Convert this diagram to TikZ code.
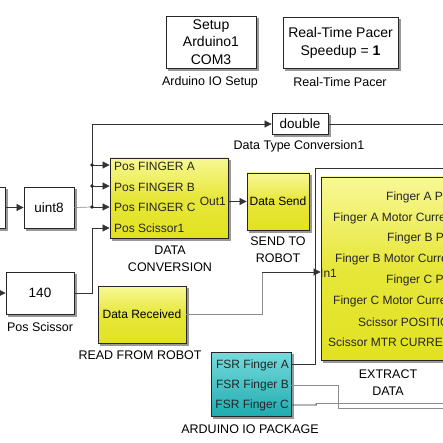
\documentclass[tikz,border=0pt]{standalone}
\usepackage{fontspec}
\setmainfont{Liberation Sans}
\usetikzlibrary{arrows.meta,calc,backgrounds}
\definecolor{ytop}{RGB}{248,248,150}
\definecolor{ybot}{RGB}{226,226,34}
\definecolor{ttop}{RGB}{120,218,220}
\definecolor{tbot}{RGB}{30,172,176}
\begin{document}
\begin{tikzpicture}[x=1pt,y=-1pt,
  every node/.style={font=\fontsize{12}{14}\selectfont},
  blk/.style={draw=black!85, line width=0.8pt, fill=white, inner sep=0pt},
  ylw/.style={blk, top color=ytop, bottom color=ybot, middle color=ybot!80!ytop},
  tealblk/.style={blk, top color=ttop, bottom color=tbot},
  shd/.style={fill=black!40},
  lbl/.style={inner sep=0pt, font=\fontsize{12.5}{17}\selectfont, align=center},
  portlbl/.style={inner sep=0pt, anchor=west, text=black!85},
  ln/.style={draw=black!80, line width=0.7pt},
  lg/.style={draw=black!45, line width=0.7pt},
  arr/.style={-{Triangle[length=7pt,width=7pt]}},
  dot/.style={fill=black!85}
]
\useasboundingbox (0,0) rectangle (443,443);
\clip (0,0) rectangle (443,443);

% top blocks
\node[blk, minimum width=90pt, minimum height=52pt, align=center,
  font=\fontsize{14}{17.5}\selectfont] (setup) at (211,42) {Setup\\Arduino1\\COM3};
\node[lbl] (setuplbl) at (210,82) {Arduino IO Setup};
\node[blk, minimum width=115pt, minimum height=51pt, align=center,
  font=\fontsize{14}{18}\selectfont] (pacer) at (340.5,42.5) {Real-Time Pacer\\Speedup = \textbf{1}};
\node[lbl] (pacerlbl) at (340,82) {Real-Time Pacer};

% data type conversion
\node[blk, minimum width=56pt, minimum height=21pt, font=\fontsize{13.5}{15}\selectfont] (dbl) at (300,124) {double};
\node[lbl] (dbllbl) at (299,146) {Data Type Conversion1};

% left
\node[blk, minimum width=20pt, minimum height=41pt] (src) at (-5,207.5) {};
\node[blk, minimum width=50pt, minimum height=41pt, font=\fontsize{13.5}{15}\selectfont] (uint) at (49,207.5) {uint8};

\node[blk, minimum width=68pt, minimum height=42pt, font=\fontsize{13.5}{15}\selectfont] (c140) at (40,293) {140};
\node[lbl] (c140lbl) at (40,327) {Pos Scissor};

% data conversion
\node[ylw, minimum width=118pt, minimum height=80pt] (conv) at (169,198) {};
\node[portlbl, align=left, font=\fontsize{12}{20.7}\selectfont] (pins) at (114,197.5)
  {Pos FINGER A\\Pos FINGER B\\Pos FINGER C\\Pos Scissor1};
\node[portlbl, anchor=east] (po) at (226,201) {Out1};
\node[lbl] (convlbl) at (170,259) {DATA\\CONVERSION};

% data send
\node[ylw, minimum width=62pt, minimum height=57pt] (dsend) at (278,201.5) {Data Send};
\node[lbl] (dsendlbl) at (278,250) {SEND TO\\ROBOT};

% data received
\node[ylw, minimum width=88pt, minimum height=57pt] (drecv) at (142,314.5) {Data Received};
\node[lbl] (drecvlbl) at (140,355) {READ FROM ROBOT};

% extract data
\node[ylw, minimum width=179pt, minimum height=183pt] (extract) at (410.5,268.5) {};
\node[portlbl] (e1) at (386,197) {Finger A POS};
\node[portlbl] (e2) at (333,218) {Finger A Motor Current};
\node[portlbl] (e3) at (387,238) {Finger B POS};
\node[portlbl] (e4) at (335,259) {Finger B Motor Current};
\node[portlbl] (e5) at (386,280) {Finger C POS};
\node[portlbl] (e6) at (333,301) {Finger C Motor Current};
\node[portlbl] (e7) at (358,322) {Scissor POSITION};
\node[portlbl] (e8) at (328,342) {Scissor MTR CURRENT};
\node[portlbl] (ein) at (320,273) {In1};
\node[lbl] (extractlbl) at (388,383) {EXTRACT\\DATA};

% arduino io package
\node[tealblk, minimum width=80pt, minimum height=64pt] (fsr) at (251,384) {};
\node[portlbl, anchor=east, align=right, font=\fontsize{12}{20}\selectfont] (fouts) at (289,385)
  {FSR Finger A\\FSR Finger B\\FSR Finger C};
\node[lbl] (fsrlbl) at (250,429) {ARDUINO IO PACKAGE};

% shadows and background
\begin{scope}[on background layer]
\fill[white] (0,0) rectangle (443,443);
\foreach \n in {setup,pacer,dbl,src,uint,c140,conv,dsend,drecv,extract,fsr}{
  \fill[shd] ($(\n.north west)+(2.2,2.2)$) rectangle ($(\n.south east)+(2.2,2.2)$);
}
\end{scope}

% junctions
\coordinate (jA) at (92,165);
\coordinate (jB) at (92,186);
\coordinate (jC) at (92,207);
\coordinate (jS) at (92,228);
\coordinate (jT) at (92,124);
\coordinate (outT) at (460,124);
\coordinate (jR) at (262,272);
\coordinate (kA) at (315,168);
\coordinate (outA) at (460,168);
\coordinate (kB) at (338,408);
\coordinate (outB) at (460,408);
\coordinate (kC) at (316,403);
\coordinate (outC) at (460,403);
\coordinate (in140) at (-10,293);

% connectors
\draw[ln,arr] (src.east) -- (uint.west);
\draw[lg] (uint.east) -- (jC);
\draw[ln,arr] (jC) -- (jC -| conv.west);
\draw[ln,arr] (jB) -- (jB -| conv.west);
\draw[ln,arr] (jA) -- (jA -| conv.west);
\draw[ln] (jC) -- (jT);
\draw[ln,arr] (jT) -- (dbl.west);
\draw[ln] (dbl.east) -- (outT);
\fill[dot] (jA) circle (1.8pt) (jB) circle (1.8pt) (jC) circle (1.8pt);
\draw[ln,arr] (in140) -- (c140.west);
\draw[ln,arr] (c140.east) -| (jS) -- (jS -| conv.west);
\draw[ln,arr] (conv.east |- dsend.west) -- (dsend.west);
\draw[lg] (drecv.east) -| (jR);
\draw[ln,arr] (jR) -- (jR -| extract.west);
\draw[ln] ($(fsr.east)+(0,-20)$) -| (kA) -- (outA);
\draw[lg] ($(fsr.east)+(0,1)$) -| (kB) -- (outB);
\draw[ln] ($(fsr.east)+(0,21)$) -- ($(fsr.east)+(25,21)$) -- (kC);
\draw[lg] (kC) -- (outC);
\end{tikzpicture}
\end{document}
